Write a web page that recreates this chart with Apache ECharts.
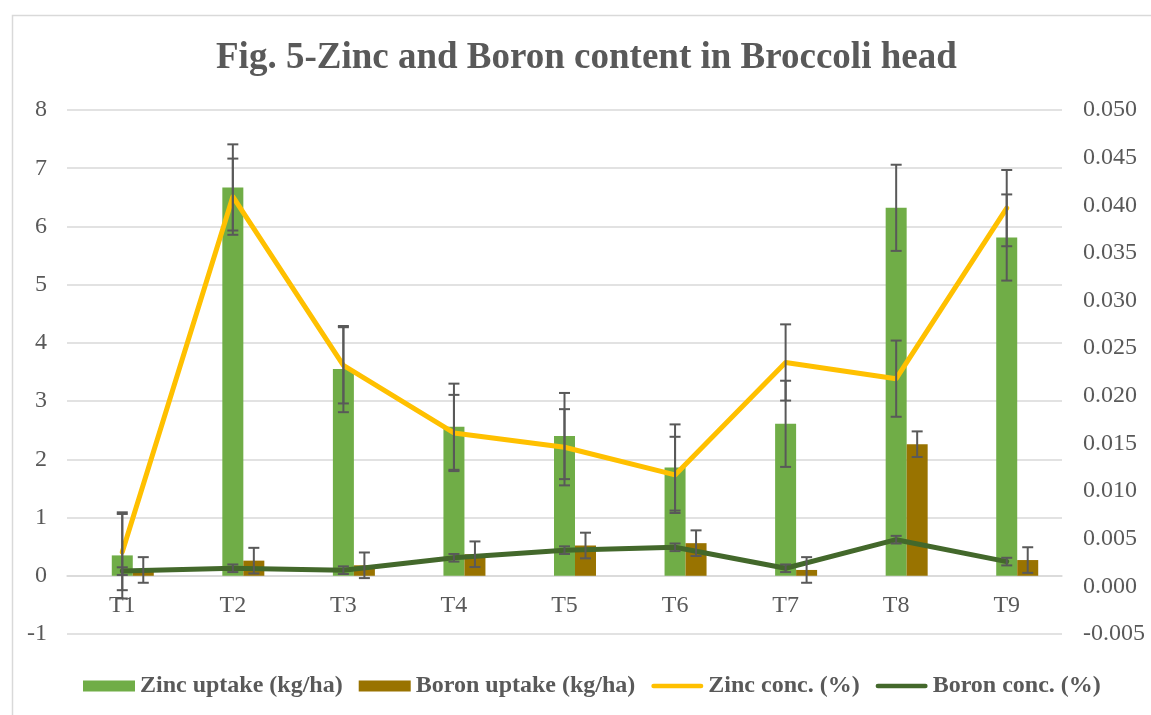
<!DOCTYPE html>
<html>
<head>
<meta charset="utf-8">
<script src="https://cdn.jsdelivr.net/npm/echarts@6/dist/echarts.min.js"></script>
<style>
html,body{margin:0;padding:0;background:#fff;}
#chart{width:1151px;height:715px;}
</style>
</head>
<body>
<div id="chart"></div>
<script>
const titleText = 'Fig. 5-Zinc and Boron content in Broccoli head';
const categories = ['T1','T2','T3','T4','T5','T6','T7','T8','T9'];
const zincUptake = [0.35, 6.67, 3.55, 2.56, 2.40, 1.86, 2.61, 6.32, 5.81];
const boronUptake = [0.10, 0.26, 0.18, 0.37, 0.52, 0.56, 0.10, 2.26, 0.27];
const zincConc = [0.0036, 0.0409, 0.0232, 0.0161, 0.0146, 0.0117, 0.0235, 0.0218, 0.0397];
const boronConc = [0.0016, 0.0019, 0.0017, 0.0030, 0.0038, 0.0041, 0.0019, 0.0049, 0.0026];
const zincUptakeErr = [0.74, 0.74, 0.74, 0.74, 0.74, 0.74, 0.74, 0.74, 0.74];
const boronUptakeErr = [0.22, 0.22, 0.22, 0.22, 0.22, 0.22, 0.22, 0.22, 0.22];
const zincConcErr = [0.004, 0.004, 0.004, 0.004, 0.004, 0.004, 0.004, 0.004, 0.004];
const boronConcErr = [0.0004, 0.0004, 0.0004, 0.0004, 0.0004, 0.0004, 0.0004, 0.0004, 0.0004];
const seriesNames = ['Zinc uptake (kg/ha)', 'Boron uptake (kg/ha)', 'Zinc conc. (%)', 'Boron conc. (%)'];

const FONT = 'Liberation Serif';
const TXT = '#595959';
const GRID = '#D9D9D9';
const BAR_W = 21;
const LINE_ICON = 'path://M2.5,0 L54.5,0 A2.5,2.5 0 0 1 54.5,5 L2.5,5 A2.5,2.5 0 0 1 2.5,0 Z';

function errData(vals, errs) {
  return vals.map((v, i) => [i, v, errs[i]]);
}
function errSeries(vals, errs, yIdx, offset) {
  return {
    type: 'custom',
    yAxisIndex: yIdx,
    z: 10,
    silent: true,
    data: errData(vals, errs),
    encode: { x: 0, y: 1 },
    renderItem: function (params, api) {
      const i = api.value(0), v = api.value(1), e = api.value(2);
      const x = api.coord([i, v])[0] + offset;
      const yt = api.coord([i, v + e])[1];
      const yb = api.coord([i, v - e])[1];
      const hw = 5.5;
      const st = { stroke: TXT, lineWidth: 2 };
      return {
        type: 'group',
        children: [
          { type: 'line', shape: { x1: x, y1: yt, x2: x, y2: yb }, style: st },
          { type: 'line', shape: { x1: x - hw, y1: yt, x2: x + hw, y2: yt }, style: st },
          { type: 'line', shape: { x1: x - hw, y1: yb, x2: x + hw, y2: yb }, style: st }
        ]
      };
    }
  };
}

const chart = echarts.init(document.getElementById('chart'));
chart.setOption({
  animation: false,
  backgroundColor: '#fff',
  graphic: [{
    type: 'rect', left: 10, top: 13, silent: true,
    shape: { width: 1300, height: 900 },
    style: { fill: 'none', stroke: GRID, lineWidth: 1.5 }
  }],
  title: {
    text: titleText,
    left: 211,
    top: 35,
    textStyle: { fontFamily: FONT, fontSize: 37, fontWeight: 'bold', color: TXT }
  },
  legend: {
    left: 78,
    top: 669,
    itemWidth: 52,
    itemHeight: 11,
    itemGap: 16,
    textStyle: { fontFamily: FONT, fontSize: 24, fontWeight: 'bold', color: TXT },
    data: [
      { name: seriesNames[0], icon: 'rect' },
      { name: seriesNames[1], icon: 'rect' },
      { name: seriesNames[2], icon: LINE_ICON },
      { name: seriesNames[3], icon: LINE_ICON }
    ]
  },
  grid: { left: 67, right: 89, top: 110, bottom: 81 },
  xAxis: {
    type: 'category',
    data: categories,
    offset: -58,
    axisLine: { show: true, onZero: false, lineStyle: { color: GRID, width: 1.5 } },
    axisTick: { show: false },
    axisLabel: { fontFamily: FONT, fontSize: 24, color: TXT, margin: 18 },
    splitLine: { show: false }
  },
  yAxis: [{
    type: 'value',
    min: -1, max: 8, interval: 1,
    axisLine: { show: false },
    axisTick: { show: false },
    axisLabel: { fontFamily: FONT, fontSize: 24, color: TXT, margin: 20 },
    splitLine: { show: true, lineStyle: { color: GRID, width: 1.5 } }
  }, {
    type: 'value',
    min: -0.005, max: 0.05, interval: 0.005,
    axisLine: { show: false },
    axisTick: { show: false },
    axisLabel: { fontFamily: FONT, fontSize: 24, color: TXT, margin: 21,
      formatter: v => v.toFixed(3) },
    splitLine: { show: false }
  }],
  series: [
    { name: '_pad', type: 'bar', barWidth: BAR_W, barGap: '0%', data: categories.map(() => null), silent: true },
    { name: seriesNames[0], type: 'bar', barWidth: BAR_W, barGap: '0%', data: zincUptake,
      itemStyle: { color: '#70AD47' } },
    { name: seriesNames[1], type: 'bar', barWidth: BAR_W, barGap: '0%', data: boronUptake,
      itemStyle: { color: '#997300' } },
    { name: seriesNames[2], type: 'line', yAxisIndex: 1, data: zincConc, symbol: 'none', z: 5,
      itemStyle: { color: '#FFC000' },
      lineStyle: { color: '#FFC000', width: 5, cap: 'round', join: 'round' } },
    { name: seriesNames[3], type: 'line', yAxisIndex: 1, data: boronConc, symbol: 'none', z: 5,
      itemStyle: { color: '#43682B' },
      lineStyle: { color: '#43682B', width: 5, cap: 'round', join: 'round' } },
    errSeries(zincUptake, zincUptakeErr, 0, 0),
    errSeries(boronUptake, boronUptakeErr, 0, BAR_W),
    errSeries(zincConc, zincConcErr, 1, 0),
    errSeries(boronConc, boronConcErr, 1, 0)
  ]
});
</script>
</body>
</html>
